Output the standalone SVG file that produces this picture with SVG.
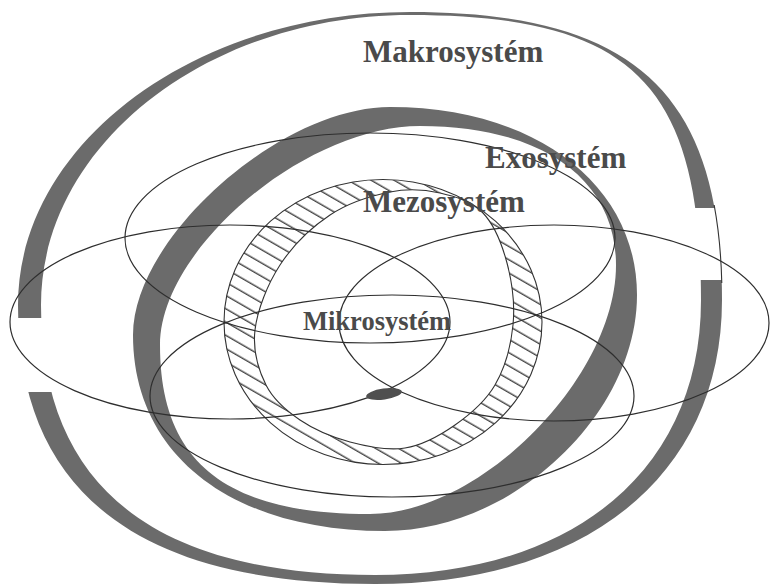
<svg xmlns="http://www.w3.org/2000/svg" width="770" height="585" viewBox="0 0 770 585">
<style>
.band{fill:#6b6b6b;fill-rule:evenodd}
.thin{fill:none;stroke:#2e2e2e;stroke-width:1.2}
.edge{fill:none;stroke:#333;stroke-width:1.1}
.lbl{font-family:"Liberation Serif","Times New Roman",serif;font-weight:bold;fill:#4a4a4a}
</style>
<defs>
<mask id="gaps" maskUnits="userSpaceOnUse" x="0" y="0" width="770" height="585">
<rect x="0" y="0" width="770" height="585" fill="#fff"/>
<rect x="0" y="318" width="80" height="74" fill="#000"/>
<rect x="680" y="208" width="90" height="72" fill="#000"/>
</mask>
<clipPath id="rgap"><rect x="690" y="205" width="80" height="78"/></clipPath>
<pattern id="hatch" patternUnits="userSpaceOnUse" width="12" height="11.5" patternTransform="rotate(30)">
<line x1="0" y1="5" x2="12" y2="5" stroke="#222" stroke-width="1.2"/>
</pattern>
</defs>
<rect width="770" height="585" fill="#fff"/>
<g id="makrosystem">
<path class="band" mask="url(#gaps)" d="M410,12 C634.6,12 722,92.6 722,300 C722,474.1 587.7,584 375,584 C136.9,584 18,491.1 18,305 C18,143.9 194.4,12 410,12 Z M410,15 C631.2,15 701,83.4 701,300 C701,468.6 574.8,575 375,575 C152.2,575 41,485.1 41,305 C41,145.5 207,15 410,15 Z"/>
<path class="edge" clip-path="url(#rgap)" d="M410,12 C634.6,12 722,92.6 722,300"/>
</g>
<g id="exosystem">
<path class="band" d="M390,107 C535,107 637,184.6 637,295 C637,414.7 512.8,531 385,531 C231.3,531 133,454.6 133,335 C133,237.6 280.3,107 390,107 Z M420,126 C541.5,126 616,178.8 616,265 C616,377 480.7,514 370,514 C225.1,514 160,461.6 160,345 C160,248.6 305.6,126 420,126 Z"/>
</g>
<g id="mezosystem">
<path fill="url(#hatch)" fill-rule="evenodd" stroke="#333" stroke-width="1.1" d="M224,322 A159,142.5 0 1,0 542,322 A159,142.5 0 1,0 224,322 Z M255,330 C252.67,350 258.5,370 266,385 C273.5,400 286,410.5 300,420 C314,429.5 332.5,437.33 350,442 C367.5,446.67 387.5,450.83 405,448 C422.5,445.17 440,435.5 455,425 C470,414.5 485.33,401.67 495,385 C504.67,368.33 511,345.33 513,325 C515,304.67 512,281.67 507,263 C502,244.33 494.17,224.67 483,213 C471.83,201.33 455.5,196.5 440,193 C424.5,189.5 408.33,188.33 390,192 C371.67,195.67 348.33,202.83 330,215 C311.67,227.17 292.5,245.83 280,265 C267.5,284.17 257.33,310 255,330 Z"/>
</g>
<g id="connectors">
<ellipse class="thin" cx="230" cy="322" rx="220" ry="97"/>
<ellipse class="thin" cx="554" cy="323" rx="215" ry="98"/>
<ellipse class="thin" cx="370" cy="238" rx="245" ry="105"/>
<ellipse class="thin" cx="392" cy="396" rx="242" ry="101"/>
</g>
<g id="mikrosystem">
<ellipse cx="384" cy="394" rx="18" ry="5.5" transform="rotate(-8 384 394)" fill="#4f4f4f"/>
<text class="lbl" x="303" y="330" font-size="26.5">Mikrosystém</text>
</g>
<g id="labels">
<text class="lbl" x="363" y="62" font-size="31">Makrosystém</text>
<text class="lbl" x="485" y="168" font-size="31">Exosystém</text>
<text class="lbl" x="363" y="212" font-size="31">Mezosystém</text>
</g>
</svg>
